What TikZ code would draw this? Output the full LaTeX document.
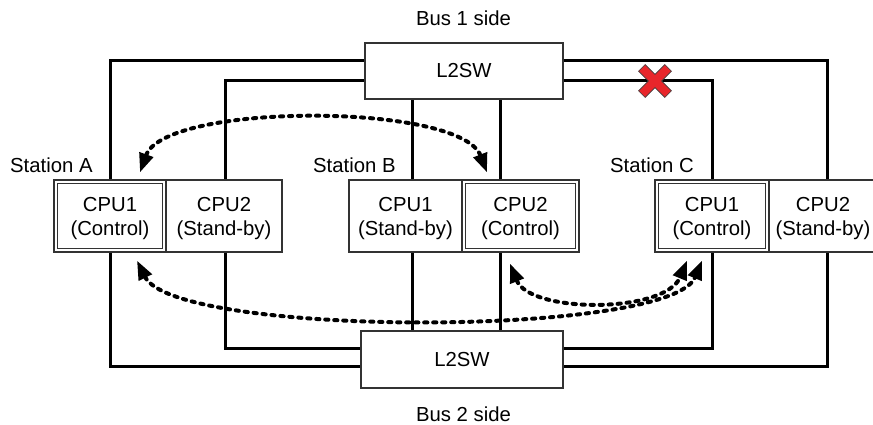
\documentclass[tikz,border=0pt]{standalone}
\usepackage{fontspec}
\setmainfont{Liberation Sans}
\usetikzlibrary{arrows.meta}
\definecolor{xred}{RGB}{232,38,43}
\begin{document}
\begin{tikzpicture}[x=1pt,y=-1pt,
  txt/.style={font=\fontsize{20.3}{24}\selectfont},
  cpu/.style={draw=black!80, line width=1.2pt, minimum height=72pt, inner sep=0pt, align=center, txt},
  swbox/.style={draw=black!80, line width=1.2pt, inner sep=0pt, txt},
  wire/.style={line width=3pt},
  flow/.style={line width=4pt, line cap=round, dash pattern=on 3.2pt off 5.8pt,
     {Triangle[length=19pt,width=14pt]}-{Triangle[length=19pt,width=14pt]}},
  innerbox/.style={draw=black!80, line width=1.2pt}
]
\useasboundingbox (0,0) rectangle (873,425);

% switches
\node[swbox, minimum width=198pt, minimum height=56pt] (sw1) at (464,71) {L2SW};
\node[swbox, minimum width=202pt, minimum height=57pt] (sw2) at (462,359.5) {L2SW};

% CPU boxes
\node[cpu, minimum width=112pt] (a1) at (110,216) {\rule{0pt}{20pt}CPU1\\(Control)};
\node[cpu, minimum width=116pt] (a2) at (224,216) {\rule{0pt}{20pt}CPU2\\(Stand-by)};
\node[cpu, minimum width=113pt] (b1) at (405.5,216) {\rule{0pt}{20pt}CPU1\\(Stand-by)};
\node[cpu, minimum width=117pt] (b2) at (520.5,216) {\rule{0pt}{20pt}CPU2\\(Control)};
\node[cpu, minimum width=114pt] (c1) at (712,216) {\rule{0pt}{20pt}CPU1\\(Control)};
\node[cpu, minimum width=108pt] (c2) at (823,216) {\rule{0pt}{20pt}CPU2\\(Stand-by)};

% double borders for controlling CPUs
\foreach \n in {a1,b2,c1}
  \draw[innerbox] ([shift={(4pt,4pt)}]\n.south west) rectangle ([shift={(-4pt,-4pt)}]\n.north east);

% labels
\node[txt, anchor=base] (bus1) at (463.5,26) {Bus 1 side};
\node[txt, anchor=base] (bus2) at (463.5,421) {Bus 2 side};
\node[txt, anchor=base west, inner sep=0pt] (sta) at (10,172) {Station A};
\node[txt, anchor=base west, inner sep=0pt] (stb) at (313,172) {Station B};
\node[txt, anchor=base west, inner sep=0pt] (stc) at (610,172) {Station C};

% bus 1 wiring
\draw[wire] ([yshift=10pt]sw1.west) -| (a1.north);
\draw[wire] ([yshift=-10pt]sw1.west) -| ([xshift=1pt]a2.north);
\draw[wire] ([yshift=10pt]sw1.east) -| ([xshift=4pt]c2.north);
\draw[wire] ([yshift=-10pt]sw1.east) -| (c1.north);
\draw[wire] ([xshift=6.5pt]b1.north) -- ([xshift=6.5pt]b1.north |- sw1.south);
\draw[wire] ([xshift=-20.5pt]b2.north) -- ([xshift=-20.5pt]b2.north |- sw1.south);

% bus 2 wiring
\draw[wire] (a1.south) |- ([yshift=-6.5pt]sw2.west);
\draw[wire] ([xshift=1pt]a2.south) |- ([yshift=11pt]sw2.west);
\draw[wire] ([xshift=6.5pt]b1.south) -- ([xshift=6.5pt]b1.south |- sw2.north);
\draw[wire] ([xshift=-20.5pt]b2.south) -- ([xshift=-20.5pt]b2.south |- sw2.north);
\draw[wire] (c1.south) |- ([yshift=11pt]sw2.east);
\draw[wire] ([xshift=4pt]c2.south) |- ([yshift=-6.5pt]sw2.east);

% red cross (broken link)
\draw[fill=xred, draw=black!75, line width=0.6pt, shift={(655,81)}, rotate=45]
  (-4.7,-18.6) -- (4.7,-18.6) -- (4.7,-4.7) -- (18.6,-4.7) -- (18.6,4.7) -- (4.7,4.7)
  -- (4.7,18.6) -- (-4.7,18.6) -- (-4.7,4.7) -- (-18.6,4.7) -- (-18.6,-4.7) -- (-4.7,-4.7) -- cycle;

% communication arrows
\draw[flow] ([xshift=30pt,yshift=7pt]a1.north) .. controls +(25,-70) and +(-27,-70) .. ([xshift=-33.5pt,yshift=7pt]b2.north);
\draw[flow] ([xshift=27pt,yshift=-8pt]a1.south) .. controls +(38,77) and +(-32,77) .. ([xshift=-10pt,yshift=-8pt]c1.south);
\draw[flow] ([xshift=-10.5pt,yshift=-11pt]b2.south) .. controls +(20,50) and +(-22,53) .. ([xshift=-25pt,yshift=-8pt]c1.south);
\end{tikzpicture}
\end{document}
